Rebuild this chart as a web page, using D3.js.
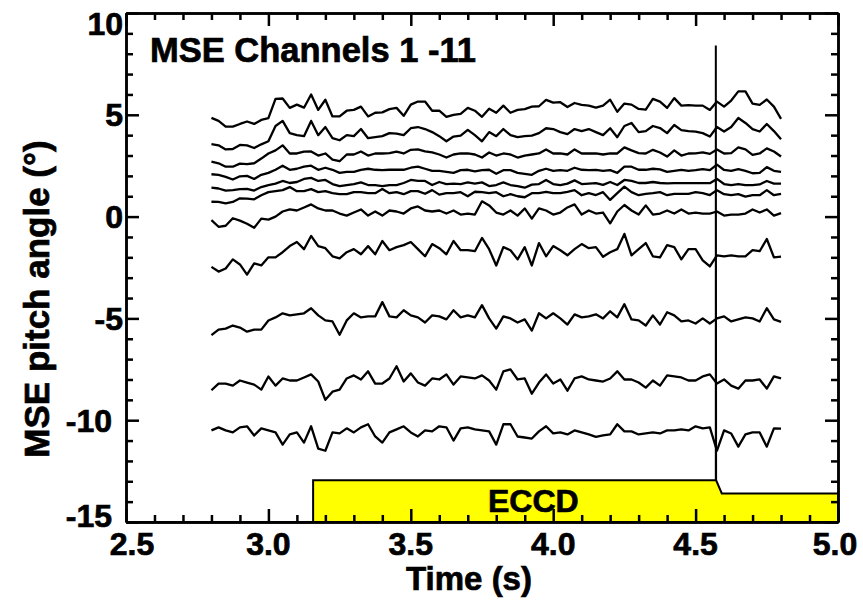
<!DOCTYPE html>
<html>
<head>
<meta charset="utf-8">
<script src="https://cdn.jsdelivr.net/npm/d3@7"></script>
<style>
body { margin: 0; background: #fff; }
svg { font-family: "Liberation Sans", Arial, Helvetica, sans-serif; font-weight: bold; }
svg text { stroke: #000; stroke-width: 0.7px; }
.axis path, .axis line { stroke: #000; stroke-width: 2.5; }
.trace { fill: none; stroke: #000; stroke-width: 2.3; stroke-linejoin: round; }
.eccd { fill: #ffff00; stroke: #000; stroke-width: 2; }
</style>
</head>
<body>
<svg width="863" height="602"></svg>
<script>
// MSE pitch angle, channels 1-11, sampled every 25 ms from 2.8 s to 4.8 s
var timeStart = 2.8, timeStep = 0.025;

var ch1 = [4.85,4.7,4.42,4.42,4.55,4.67,4.55,4.75,4.84,5.78,
    5.8,5.34,5.5,5.35,6.0,5.24,5.74,4.92,4.92,5.2,
    5.24,5.4,4.92,5.1,5.12,5.28,5.34,4.95,5.5,5.65,
    5.65,5.2,5.2,4.9,5.0,5.05,5.34,5.2,4.9,5.3,
    5.1,5.45,5.1,5.24,5.28,5.4,5.42,5.73,5.6,5.62,
    5.38,5.58,5.49,5.45,5.35,5.45,5.74,5.15,5.55,5.5,
    5.29,5.25,5.78,5.65,5.34,5.82,5.45,5.48,5.45,5.45,
    5.24,5.65,5.4,5.7,6.15,6.15,5.55,5.49,5.75,5.4,
    4.8];
var ch2 = [3.56,3.5,3.3,3.32,3.52,3.5,3.37,3.55,3.7,4.45,
    4.7,4.1,4.0,3.95,4.7,4.0,4.4,3.85,3.75,4.0,
    3.95,4.3,3.85,3.9,3.95,4.1,4.08,4.0,4.34,4.4,
    4.3,4.15,3.95,3.7,3.93,3.98,4.26,4.0,3.7,4.15,
    3.95,4.3,4.0,3.9,3.95,3.98,4.1,4.34,4.3,4.15,
    4.05,4.3,4.2,4.3,4.15,4.0,4.34,3.9,4.45,4.6,
    4.15,4.2,4.45,4.35,4.1,4.5,4.25,4.2,4.17,4.1,
    3.93,4.4,4.18,4.4,4.84,4.6,4.3,4.18,4.55,4.2,
    3.8];
var ch3 = [2.7,2.62,2.45,2.45,2.6,2.58,2.62,2.85,3.1,3.25,
    3.5,3.1,3.1,3.19,3.2,3.0,3.1,2.8,2.72,3.05,
    3.05,3.2,3.0,3.1,3.1,3.12,3.19,3.1,3.28,3.3,
    3.2,3.15,3.05,2.9,3.05,3.1,3.1,3.05,2.9,3.15,
    3.0,3.1,3.05,2.9,3.0,3.05,3.1,3.3,3.1,3.1,
    3.05,3.3,3.1,3.1,3.11,3.05,3.1,3.1,3.4,3.25,
    3.12,3.1,3.28,3.15,2.95,3.25,3.0,3.1,3.11,3.15,
    3.08,3.3,3.1,3.12,3.4,3.3,3.03,3.1,3.35,3.2,
    2.95];
var ch4 = [2.08,2.05,1.95,1.82,1.98,2.0,1.85,2.05,2.15,2.3,
    2.5,2.3,2.35,2.45,2.5,2.3,2.4,2.3,2.15,2.2,
    2.2,2.3,2.35,2.3,2.28,2.3,2.3,2.3,2.4,2.45,
    2.35,2.25,2.25,2.2,2.15,2.28,2.3,2.22,2.28,2.3,
    2.1,2.28,2.28,2.15,2.1,2.05,2.25,2.35,2.25,2.28,
    2.25,2.4,2.3,2.28,2.29,2.25,2.28,2.15,2.45,2.45,
    2.3,2.3,2.35,2.32,2.2,2.25,2.3,2.25,2.28,2.33,
    2.28,2.55,2.29,2.25,2.33,2.25,2.13,2.15,2.43,2.25,
    2.2];
var ch5 = [1.42,1.38,1.28,1.3,1.35,1.36,1.28,1.45,1.55,1.62,
    1.75,1.65,1.7,1.85,1.9,1.75,1.8,1.6,1.5,1.55,
    1.6,1.68,1.55,1.55,1.5,1.55,1.55,1.65,1.8,1.75,
    1.75,1.55,1.7,1.6,1.62,1.6,1.68,1.62,1.68,1.5,
    1.55,1.68,1.55,1.5,1.42,1.57,1.6,1.8,1.6,1.55,
    1.62,1.78,1.6,1.62,1.64,1.56,1.7,1.55,1.8,1.75,
    1.65,1.65,1.7,1.65,1.63,1.64,1.64,1.64,1.64,1.64,
    1.64,1.85,1.6,1.55,1.6,1.55,1.55,1.58,1.75,1.62,
    1.62];
var ch6 = [0.73,0.72,0.65,0.72,0.9,0.88,0.85,1.05,1.2,1.25,
    1.3,1.45,1.25,1.25,1.35,1.2,1.25,1.15,1.1,1.1,
    1.2,1.2,1.15,1.15,1.35,1.15,1.2,1.1,1.25,1.25,
    1.12,1.3,1.08,1.15,1.15,1.2,1.0,1.22,1.2,1.15,
    1.2,1.0,1.1,1.0,0.95,1.15,1.15,1.22,1.15,1.15,
    1.22,1.3,1.05,1.15,1.06,1.2,0.82,1.15,1.47,1.2,
    1.05,1.12,1.15,1.2,1.05,1.12,1.12,1.12,1.2,1.15,
    1.06,1.3,1.1,1.05,1.1,0.98,1.05,1.05,1.3,1.05,
    1.12];
var ch7 = [-0.17,-0.5,-0.45,-0.08,-0.2,-0.35,-0.55,-0.1,-0.15,0.0,
    0.25,0.35,0.3,0.45,0.6,0.4,0.3,0.3,0.15,0.05,
    0.2,0.35,0.05,0.25,0.05,0.3,0.25,0.15,0.4,0.5,
    0.3,0.25,0.3,0.15,0.3,0.1,0.15,0.1,0.75,0.55,
    0.2,0.1,0.3,0.05,0.4,-0.1,0.4,0.3,0.1,0.2,
    0.45,0.6,0.1,0.3,0.15,0.2,-0.33,0.25,0.57,0.3,
    0.1,0.55,0.1,0.15,0.3,0.15,0.35,0.15,0.2,0.15,
    0.15,0.25,0.05,0.1,0.1,0.15,0.35,0.2,0.35,0.05,
    0.17];
var ch8 = [-2.47,-2.7,-2.55,-2.1,-2.35,-2.85,-2.3,-2.4,-2.0,-2.0,
    -1.75,-1.45,-1.25,-1.6,-0.95,-1.45,-1.55,-1.95,-2.05,-1.75,
    -1.6,-1.85,-1.45,-1.85,-1.2,-1.65,-1.5,-1.4,-1.25,-1.6,
    -1.95,-1.35,-1.55,-1.85,-1.2,-1.65,-1.65,-1.7,-1.05,-1.6,
    -2.4,-1.5,-1.65,-2.1,-1.5,-2.4,-1.3,-1.95,-1.45,-1.65,
    -1.9,-1.6,-1.35,-1.55,-1.5,-1.97,-1.75,-1.6,-0.85,-1.9,
    -1.6,-1.3,-1.95,-2.0,-1.4,-1.5,-2.1,-1.6,-1.6,-2.15,
    -2.45,-1.9,-1.95,-1.9,-1.95,-1.95,-1.65,-1.7,-1.1,-2.0,
    -1.97];
var ch9 = [-5.82,-5.55,-5.5,-5.35,-5.45,-5.65,-5.55,-5.55,-5.1,-4.95,
    -4.75,-4.85,-4.8,-4.75,-4.5,-4.85,-5.1,-5.15,-5.8,-5.1,
    -4.75,-4.95,-4.9,-4.9,-4.2,-4.9,-4.95,-4.6,-4.85,-4.95,
    -5.2,-4.85,-4.9,-5.05,-4.6,-4.95,-4.85,-4.95,-4.35,-5.0,
    -5.5,-4.9,-5.0,-5.2,-5.05,-5.6,-4.75,-5.0,-4.75,-5.0,
    -5.3,-4.8,-4.95,-4.9,-4.8,-5.0,-4.65,-4.95,-4.3,-5.05,
    -5.1,-5.35,-4.85,-5.3,-4.7,-4.85,-5.15,-5.1,-5.25,-5.0,
    -5.25,-5.0,-4.9,-5.15,-5.05,-4.95,-5.0,-5.15,-4.5,-5.05,
    -5.17];
var ch10 = [-8.53,-8.2,-8.2,-8.3,-8.05,-8.15,-8.25,-8.5,-7.85,-8.3,
    -7.95,-8.05,-8.05,-7.9,-7.75,-8.1,-9.0,-8.6,-8.5,-7.95,
    -7.8,-8.0,-7.6,-8.2,-8.2,-7.95,-7.35,-8.1,-7.7,-8.15,
    -8.3,-7.95,-8.0,-7.75,-8.25,-7.85,-7.9,-7.95,-7.8,-8.05,
    -8.5,-7.6,-7.5,-8.0,-7.95,-8.7,-8.15,-7.75,-8.2,-8.0,
    -8.55,-7.95,-7.85,-8.0,-8.05,-8.1,-7.95,-7.6,-8.0,-8.0,
    -8.15,-8.4,-8.05,-8.3,-7.8,-7.85,-7.9,-8.05,-8.05,-7.85,
    -7.75,-8.2,-8.0,-8.3,-8.45,-8.05,-8.05,-8.0,-8.45,-7.85,
    -7.95];
var ch11 = [-10.5,-10.35,-10.5,-10.6,-10.35,-10.3,-10.75,-10.4,-10.5,-10.6,
    -11.2,-10.7,-10.6,-11.1,-10.3,-11.4,-11.5,-10.6,-10.65,-10.4,
    -10.6,-10.35,-10.2,-10.8,-11.1,-10.6,-10.45,-10.3,-10.6,-10.8,
    -10.5,-10.55,-10.3,-10.35,-11.0,-10.4,-10.35,-10.45,-10.5,-10.55,
    -11.2,-10.2,-10.2,-10.8,-10.85,-10.9,-10.55,-10.3,-10.65,-10.6,
    -10.7,-10.5,-10.6,-10.7,-10.82,-10.75,-10.7,-10.2,-10.55,-10.55,
    -10.7,-10.65,-10.6,-10.65,-10.5,-10.5,-10.45,-10.5,-10.3,-10.4,
    -10.35,-11.5,-10.5,-10.65,-11.3,-10.7,-10.6,-10.6,-11.3,-10.4,
    -10.41];
var channels = [ch1, ch2, ch3, ch4, ch5, ch6, ch7, ch8, ch9, ch10, ch11];

// ECCD power trace, drawn in the same units as the pitch angle axis
var eccdTime = [2.5, 3.157, 3.157, 4.571, 4.571, 4.572, 4.592, 5.0];
var eccdLevel = [-15, -15, -12.95, -12.95, 8.4, -12.95, -13.6, -13.6];

var xTicks = [2.5, 3.0, 3.5, 4.0, 4.5, 5.0];
var xTickLabels = ["2.5", "3.0", "3.5", "4.0", "4.5", "5.0"];
var yTicks = [-15, -10, -5, 0, 5, 10];
var yTickLabels = ["-15", "-10", "-5", "0", "5", "10"];

d3.select(window).on('load', init);

function init() {

    var svg = d3.select('svg');
    var margin = {top: 13, right: 25, bottom: 80, left: 126};
    var width = 863 - margin.left - margin.right;
    var height = 602 - margin.top - margin.bottom;

    var g = svg.append("g")
        .attr("transform", "translate(" + margin.left + "," + margin.top + ")");

    var x = d3.scaleLinear().domain([2.5, 5.0]).range([0, width]);
    var y = d3.scaleLinear().domain([-15, 10]).range([height, 0]);

    // ECCD block
    var eccd = eccdTime.map(function(t, i) { return [t, eccdLevel[i]]; });
    g.append("path")
        .datum(eccd)
        .attr("class", "eccd")
        .attr("d", d3.area()
            .x(function(d) { return x(d[0]); })
            .y0(y(-15))
            .y1(function(d) { return y(d[1]); }));

    g.append("text")
        .attr("x", x(3.93))
        .attr("y", y(-14.5))
        .attr("text-anchor", "middle")
        .attr("font-size", 32)
        .text("ECCD");

    // channel traces
    var line = d3.line()
        .x(function(d, i) { return x(timeStart + i * timeStep); })
        .y(function(d) { return y(d); });

    g.selectAll(".trace")
        .data(channels)
        .enter().append("path")
        .attr("class", "trace")
        .attr("d", line);

    // axes: ticks on all four sides, pointing inward
    var xMinor = d3.range(25, 51).map(function(d) { return d / 10; })
        .filter(function(d) { return Math.round(d * 10) % 5 !== 0; });
    var yMinor = d3.range(-15, 11).filter(function(d) { return d % 5 !== 0; });

    function drawAxis(axisFn, scale, values, size, transform) {
        g.append("g")
            .attr("class", "axis")
            .attr("transform", transform)
            .call(axisFn(scale).tickValues(values).tickSize(-size).tickSizeOuter(0).tickFormat(""));
    }
    drawAxis(d3.axisBottom, x, xTicks, 13, "translate(0," + height + ")");
    drawAxis(d3.axisBottom, x, xMinor, 7, "translate(0," + height + ")");
    drawAxis(d3.axisTop, x, xTicks, 13, "translate(0,0)");
    drawAxis(d3.axisTop, x, xMinor, 7, "translate(0,0)");
    drawAxis(d3.axisLeft, y, yTicks, 13, "translate(0,0)");
    drawAxis(d3.axisLeft, y, yMinor, 7, "translate(0,0)");
    drawAxis(d3.axisRight, y, yTicks, 13, "translate(" + width + ",0)");
    drawAxis(d3.axisRight, y, yMinor, 7, "translate(" + width + ",0)");

    // tick labels
    g.selectAll(".xlabel")
        .data(xTicks)
        .enter().append("text")
        .attr("class", "xlabel")
        .attr("x", function(d) { return Math.max(6, Math.min(width - 3, x(d))); })
        .attr("y", height + 33)
        .attr("text-anchor", "middle")
        .attr("font-size", 32)
        .text(function(d, i) { return xTickLabels[i]; });

    g.selectAll(".ylabel")
        .data(yTicks)
        .enter().append("text")
        .attr("class", "ylabel")
        .attr("x", function(d, i) { return yTickLabels[i].length > 2 ? -14 : -3; })
        .attr("y", function(d) { return Math.max(10, Math.min(height - 7, y(d))); })
        .attr("dy", "0.36em")
        .attr("text-anchor", "end")
        .attr("font-size", 32)
        .text(function(d, i) { return yTickLabels[i]; });

    // titles
    svg.append("text")
        .attr("x", 469)
        .attr("y", 590)
        .attr("text-anchor", "middle")
        .attr("font-size", 33)
        .text("Time (s)");

    svg.append("text")
        .attr("transform", "translate(49,299) rotate(-90)")
        .attr("text-anchor", "middle")
        .attr("font-size", 35)
        .text("MSE pitch angle (\u00b0)");

    g.append("text")
        .attr("x", 24)
        .attr("y", 49)
        .attr("font-size", 34.5)
        .text("MSE Channels 1 -11");
}
</script>
</body>
</html>
